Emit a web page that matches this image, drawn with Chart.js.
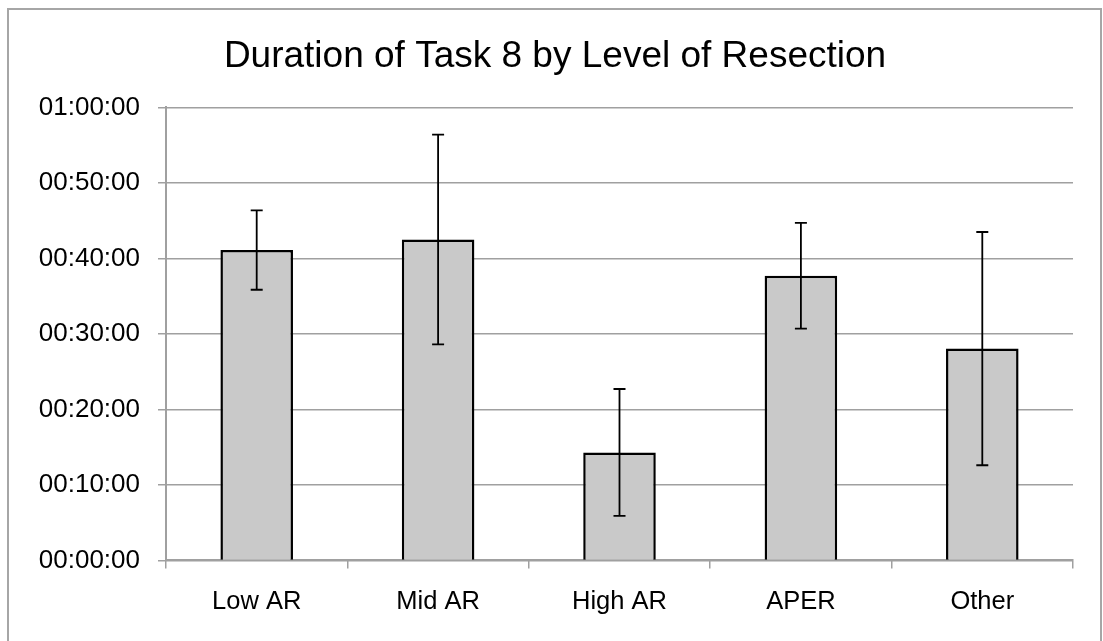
<!DOCTYPE html>
<html>
<head>
<meta charset="utf-8">
<script src="https://cdn.jsdelivr.net/npm/chart.js@4"></script>
<style>
  html, body { margin: 0; padding: 0; background: #ffffff; }
  #wrap { width: 1103px; height: 641px; position: relative; }
</style>
</head>
<body>
<div id="wrap"><canvas id="c" width="1103" height="641"></canvas></div>
<script>
// Data (durations in minutes)
const categories = ["Low AR", "Mid AR", "High AR", "APER", "Other"];
const meanMinutes = [41.1, 42.5, 14.3, 37.7, 28.05];
const errorMinutes = [5.25, 13.9, 8.4, 7.0, 15.45];
const yTickMax = 60;
const yTickStep = 10;

function fmtHMS(mins) {
  const s = Math.round(mins * 60);
  const h = Math.floor(s / 3600);
  const m = Math.floor((s % 3600) / 60);
  const sec = s % 60;
  const p = n => String(n).padStart(2, "0");
  return p(h) + ":" + p(m) + ":" + p(sec);
}

const frame = {
  id: "frame",
  beforeDraw(chart) {
    const ctx = chart.ctx;
    ctx.save();
    ctx.fillStyle = "#ffffff";
    ctx.fillRect(0, 0, chart.width, chart.height);
    ctx.strokeStyle = "#a6a6a6";
    ctx.lineWidth = 2;
    ctx.strokeRect(8, 9, 1093, 700);
    ctx.restore();
  }
};

const errorBars = {
  id: "errorBars",
  afterDatasetsDraw(chart) {
    const ctx = chart.ctx;
    const y = chart.scales.y;
    const meta = chart.getDatasetMeta(0);
    ctx.save();
    ctx.strokeStyle = "#000000";
    ctx.lineWidth = 1.8;
    meta.data.forEach((bar, i) => {
      const x = bar.x;
      const top = y.getPixelForValue(meanMinutes[i] + errorMinutes[i]);
      const bot = y.getPixelForValue(meanMinutes[i] - errorMinutes[i]);
      const cap = 6;
      ctx.beginPath();
      ctx.moveTo(x, top); ctx.lineTo(x, bot);
      ctx.moveTo(x - cap, top); ctx.lineTo(x + cap, top);
      ctx.moveTo(x - cap, bot); ctx.lineTo(x + cap, bot);
      ctx.stroke();
    });
    ctx.restore();
  }
};

Chart.defaults.font.family = "'Liberation Sans', Arial, Helvetica, sans-serif";
Chart.defaults.color = "#000000";

new Chart(document.getElementById("c"), {
  type: "bar",
  data: {
    labels: categories,
    datasets: [{
      data: meanMinutes,
      backgroundColor: "#c9c9c9",
      borderColor: "#000000",
      borderWidth: 2.5,
      borderSkipped: "start",
      categoryPercentage: 1.0,
      barPercentage: 0.4
    }]
  },
  options: {
    responsive: false,
    animation: false,
    devicePixelRatio: 1,
    layout: { padding: { left: 37, right: 30, top: 0, bottom: 6 } },
    plugins: {
      legend: { display: false },
      tooltip: { enabled: false },
      title: {
        display: true,
        text: "Duration of Task 8 by Level of Resection",
        font: { size: 37, weight: "normal" },
        color: "#000000",
        padding: { top: 35, bottom: 28 }
      }
    },
    scales: {
      x: {
        grid: {
          display: true,
          drawOnChartArea: false,
          drawTicks: true,
          tickLength: 8,
          color: "#a0a0a0",
          lineWidth: 1.5,
          offset: true
        },
        border: { display: true, color: "#a0a0a0", width: 2 },
        ticks: { font: { size: 25.5 }, padding: 18, color: "#000000" }
      },
      y: {
        min: 0,
        max: yTickMax,
        afterFit(scale) { scale.width = 129; },
        ticks: {
          stepSize: yTickStep,
          font: { size: 26 },
          padding: 18,
          color: "#000000",
          callback: v => fmtHMS(v)
        },
        grid: {
          color: "#a0a0a0",
          lineWidth: 1.5,
          tickLength: 8
        },
        border: { display: true, color: "#a0a0a0", width: 2 }
      }
    }
  },
  plugins: [frame, errorBars]
});
</script>
</body>
</html>
